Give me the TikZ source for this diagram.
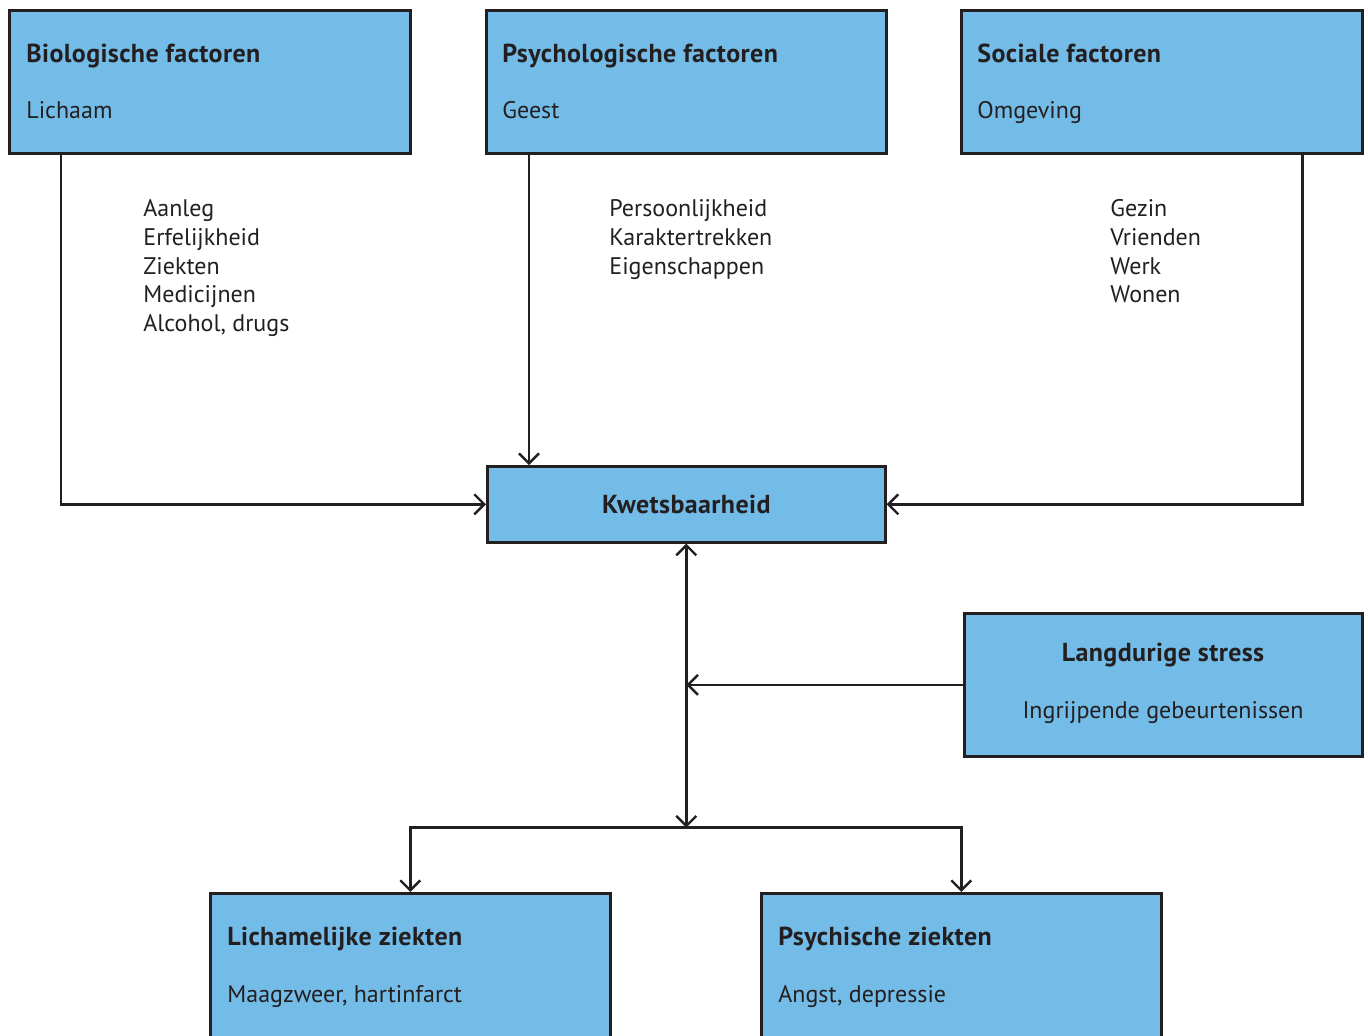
\documentclass[tikz,border=0pt]{standalone}
\usepackage{fontspec}
\setmainfont{PT Sans}[BoldFeatures={LetterSpace=1.5}]
\usetikzlibrary{arrows.meta}
\definecolor{boxblue}{HTML}{74BCE8}
\definecolor{linecol}{HTML}{231F20}

\begin{document}
\begin{tikzpicture}[x=0.5pt, y=-0.5pt,
  font=\fontsize{12}{14.35}\selectfont, text=linecol,
  box/.style={draw=linecol, fill=boxblue, line width=1.3pt, anchor=north west, inner sep=0pt},
  title/.style={font=\fontsize{13}{15}\selectfont\bfseries, anchor=base west, inner sep=0pt},
  sub/.style={anchor=base west, inner sep=0pt},
  conn/.style={draw=linecol, line width=1.2pt},
  arr/.style={conn, -{Straight Barb[length=5pt, width=10pt]}}]
\clip (0,0) rectangle (1368,1035);
% boxes
\node[box, minimum width=200.5pt, minimum height=71.5pt] (bio) at (8,9) {};
\node[box, minimum width=200pt, minimum height=71.5pt] (psy) at (485,9) {};
\node[box, minimum width=200.5pt, minimum height=71.5pt] (soc) at (960,9) {};
\node[box, font=\fontsize{13}{15}\selectfont\bfseries, minimum width=199pt, minimum height=38pt] (kw) at (486,465) {Kwetsbaarheid};
\node[box, minimum width=199pt, minimum height=71.5pt] (stress) at (963,612) {};
\node[box, minimum width=200pt, minimum height=83.5pt] (lich) at (209,892) {};
\node[box, minimum width=200pt, minimum height=83.5pt] (psz) at (760,892) {};
% texts in the boxes
\node[title] (biot) at (26,62) {Biologische factoren};
\node[sub] (bios) at (26,118) {Lichaam};
\node[title] (psyt) at (502,62) {Psychologische factoren};
\node[sub] (psys) at (502,118) {Geest};
\node[title] (soct) at (977,62) {Sociale factoren};
\node[sub] (socs) at (977,118) {Omgeving};
\node[title, anchor=base] (stresst) at (1163,661) {Langdurige stress};
\node[sub, anchor=base] (stresss) at (1163,718) {Ingrijpende gebeurtenissen};
\node[title] (licht) at (227,945) {Lichamelijke ziekten};
\node[sub] (lichs) at (227,1002) {Maagzweer, hartinfarct};
\node[title] (pszt) at (778,945) {Psychische ziekten};
\node[sub] (pszs) at (778,1002) {Angst, depressie};
% lists
\foreach \t [count=\i] in {Aanleg, Erfelijkheid, Ziekten, Medicijnen, {Alcohol, drugs}}
  \node[sub] (biol\i) at (143,188+28.7*\i) {\t};
\foreach \t [count=\i] in {Persoonlijkheid, Karaktertrekken, Eigenschappen}
  \node[sub] (psyl\i) at (609,188+28.7*\i) {\t};
\foreach \t [count=\i] in {Gezin, Vrienden, Werk, Wonen}
  \node[sub] (socl\i) at (1110,188+28.7*\i) {\t};
% connectors
\coordinate (split) at ([yshift=-142pt]kw.south);
\draw[arr] ([xshift=26.5pt]bio.south west) |- (kw.west);
\draw[arr] ([xshift=22pt]psy.south west) -- ([xshift=21.5pt]kw.north west);
\draw[arr] ([xshift=-30.5pt]soc.south east) |- (kw.east);
\draw[conn, {Straight Barb[length=5pt, width=10pt]}-{Straight Barb[length=5pt, width=10pt]}] (kw.south) -- (split);
\draw[arr] (split) -| (lich.north);
\draw[arr] (split) -| (psz.north);
\draw[arr] (stress.west) -- (stress.west -| split);
\end{tikzpicture}
\end{document}
